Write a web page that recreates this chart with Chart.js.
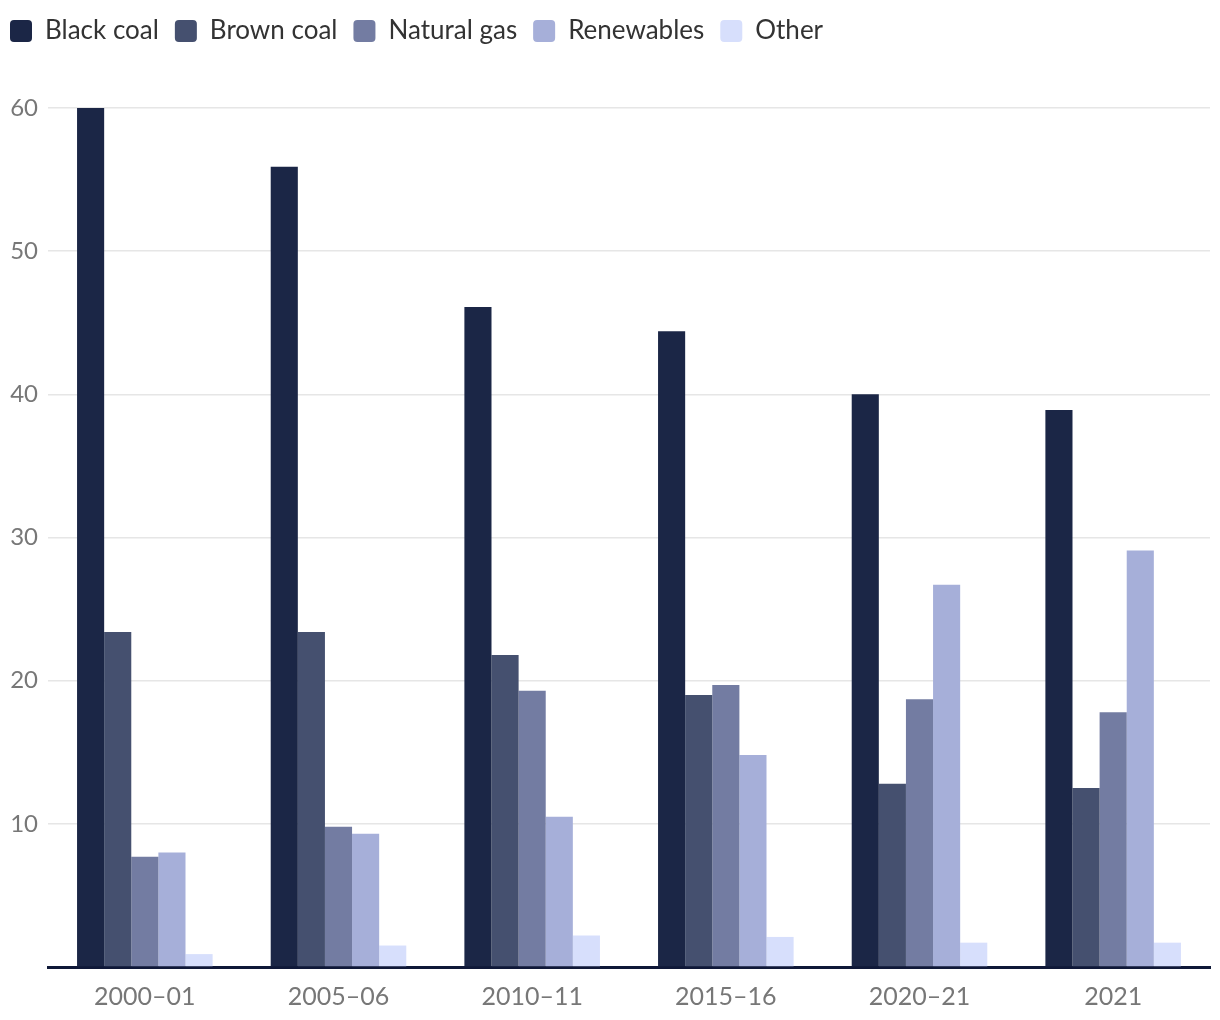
<!DOCTYPE html>
<html>
<head>
<meta charset="utf-8">
<script src="https://cdn.jsdelivr.net/npm/chart.js@4/dist/chart.umd.min.js"></script>
<style>
    html, body { margin: 0; padding: 0; background: #fff; }
    #wrap { width: 1220px; height: 1020px; position: relative; }
</style>
</head>
<body>
<div id="wrap"><canvas id="genChart"></canvas></div>
<script>
const years = ['2000\u201301', '2005\u201306', '2010\u201311', '2015\u201316', '2020\u201321', '2021'];
const blackCoal = [60, 55.9, 46.1, 44.4, 40.0, 38.9];
const brownCoal = [23.4, 23.4, 21.8, 19.0, 12.8, 12.5];
const naturalGas = [7.7, 9.8, 19.3, 19.7, 18.7, 17.8];
const renewables = [8.0, 9.3, 10.5, 14.8, 26.7, 29.1];
const other = [0.9, 1.5, 2.2, 2.1, 1.7, 1.7];

const colors = ['#1b2646', '#45506f', '#737ca2', '#a6afd9', '#d7dffc'];

// push the plot area down below the legend, and nudge the legend left
const legendGap = {
    id: 'legendGap',
    beforeInit(chart) {
        const fitOrig = chart.legend.fit;
        chart.legend.fit = function() {
            fitOrig.bind(chart.legend)();
            this.height += 54;
        };
    },
    afterLayout(chart) {
        chart.legend.left -= 6;
    }
};

const ctx = document.getElementById('genChart').getContext('2d');
new Chart(ctx, {
    type: 'bar',
    data: {
        labels: years,
        datasets: [
            { label: 'Black coal', data: blackCoal, backgroundColor: colors[0] },
            { label: 'Brown coal', data: brownCoal, backgroundColor: colors[1] },
            { label: 'Natural gas', data: naturalGas, backgroundColor: colors[2] },
            { label: 'Renewables', data: renewables, backgroundColor: colors[3] },
            { label: 'Other', data: other, backgroundColor: colors[4] }
        ]
    },
    options: {
        responsive: true,
        maintainAspectRatio: false,
        animation: false,
        categoryPercentage: 0.7,
        barPercentage: 1.0,
        layout: { padding: { left: 0, right: 10, top: 2, bottom: 8 } },
        plugins: {
            tooltip: { enabled: false },
            legend: {
                position: 'top',
                align: 'start',
                labels: {
                    boxWidth: 22,
                    boxHeight: 22,
                    useBorderRadius: true,
                    borderRadius: 4,
                    padding: 16,
                    color: '#333',
                    font: { family: 'Lato', size: 26 }
                }
            }
        },
        scales: {
            x: {
                grid: { display: false },
                border: { color: '#0f1838', width: 3 },
                afterFit: function(scale) { scale.height = 45; },
                ticks: { color: '#777', font: { family: 'Lato', size: 25, lineHeight: 1 }, padding: 9 }
            },
            y: {
                min: 0,
                max: 60,
                border: { display: false },
                grid: { color: '#e6e6e6', lineWidth: 1.5, drawTicks: false },
                afterFit: function(scale) { scale.width = 48; },
                ticks: {
                    stepSize: 10,
                    color: '#777',
                    font: { family: 'Lato', size: 24 },
                    padding: 10,
                    callback: function(v) { return v === 0 ? '' : v; }
                }
            }
        }
    },
    plugins: [legendGap]
});
</script>
</body>
</html>
